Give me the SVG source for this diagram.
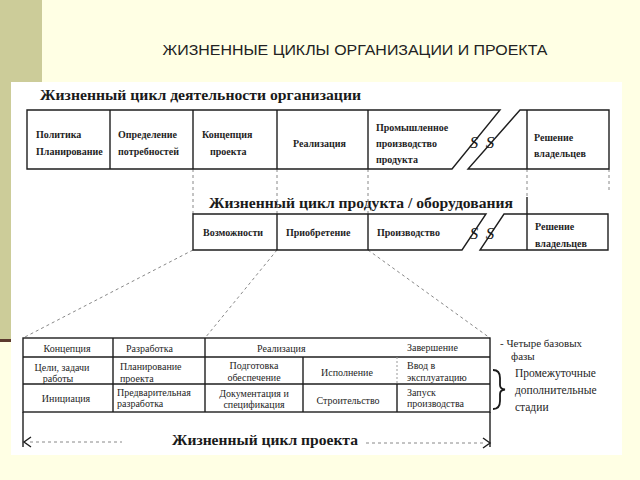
<svg xmlns="http://www.w3.org/2000/svg" width="640" height="480" viewBox="0 0 640 480">
<style>
.ln{stroke:#1e1e1e;stroke-width:1.4;fill:none}
.ds{stroke:#888;stroke-width:1;stroke-dasharray:3 3;fill:none}
.t{font-family:"Liberation Serif","Times New Roman",serif;font-size:10px;fill:#1e1e1e}
.tb{font-family:"Liberation Serif","Times New Roman",serif;font-size:10px;fill:#1e1e1e;font-weight:bold}
.h{font-family:"Liberation Serif","Times New Roman",serif;font-size:15px;font-weight:bold;fill:#1a1a1a}
.s{font-family:"Liberation Serif","Times New Roman",serif;font-size:17px;font-style:italic;fill:#1a1a1a;text-anchor:middle}
.r{font-family:"Liberation Serif","Times New Roman",serif;font-size:11.5px;fill:#1e1e1e}
.m{text-anchor:middle}
</style>
<rect x="0" y="0" width="640" height="480" fill="#FFFFE4"/>
<rect x="0" y="0" width="42" height="340" fill="#CCCC99"/>
<rect x="0" y="339" width="42" height="3" fill="#5C3A2E"/>
<rect x="11" y="82" width="611" height="373" fill="#FFFFFF"/>
<text x="355" y="55" text-anchor="middle" textLength="385" lengthAdjust="spacingAndGlyphs" style="font-family:'Liberation Sans',Arial,sans-serif;font-size:15px;fill:#222">ЖИЗНЕННЫЕ ЦИКЛЫ ОРГАНИЗАЦИИ И ПРОЕКТА</text>

<text class="h" x="40" y="100" textLength="321" lengthAdjust="spacingAndGlyphs">Жизненный цикл деятельности организации</text>
<text class="h" x="209" y="208" textLength="304" lengthAdjust="spacingAndGlyphs">Жизненный цикл продукта / оборудования</text>

<g id="connectors">
<line class="ds" x1="193" y1="169" x2="193" y2="214"/>
<line class="ds" x1="277" y1="169" x2="277" y2="214"/>
<line class="ds" x1="368" y1="169" x2="368" y2="214"/>
<line class="ds" x1="527" y1="169" x2="527" y2="197"/>
<line class="ln" x1="527" y1="197" x2="527" y2="214"/>
<line class="ds" x1="609" y1="169" x2="609" y2="190"/>
<line class="ds" x1="193" y1="250" x2="23" y2="338"/>
<line class="ds" x1="277" y1="250" x2="205" y2="338"/>
<line class="ds" x1="368" y1="250" x2="490" y2="338"/>
</g>

<g id="org-row">
<path class="ln" d="M27 110 H500 L452 169 H27 Z"/>
<path class="ln" d="M520 110 H609 V169 H468 Z"/>
<line class="ln" x1="110" y1="110" x2="110" y2="169"/>
<line class="ln" x1="193" y1="110" x2="193" y2="169"/>
<line class="ln" x1="277" y1="110" x2="277" y2="169"/>
<line class="ln" x1="368" y1="110" x2="368" y2="169"/>
<line class="ln" x1="527" y1="110" x2="527" y2="169"/>
<text class="s" x="474" y="148">S</text>
<text class="s" x="490" y="148">S</text>
</g>
<g id="org-1"><text class="tb" x="36" y="138">Политика</text><text class="tb" x="36" y="155">Планирование</text></g>
<g id="org-2"><text class="tb" x="118" y="138">Определение</text><text class="tb" x="118" y="155">потребностей</text></g>
<g id="org-3"><text class="tb" x="202" y="138">Концепция</text><text class="tb" x="210" y="155">проекта</text></g>
<g id="org-4"><text class="tb" x="293" y="147">Реализация</text></g>
<g id="org-5"><text class="tb" x="376" y="131">Промышленное</text><text class="tb" x="376" y="147">производство</text><text class="tb" x="376" y="163">продукта</text></g>
<g id="org-6"><text class="tb" x="534" y="141">Решение</text><text class="tb" x="534" y="157">владельцев</text></g>

<g id="prod-row">
<path class="ln" d="M193 214 H486 L462 250 H193 Z"/>
<path class="ln" d="M504 214 H608 V250 H480 Z"/>
<line class="ln" x1="277" y1="214" x2="277" y2="250"/>
<line class="ln" x1="368" y1="214" x2="368" y2="250"/>
<line class="ln" x1="527" y1="214" x2="527" y2="250"/>
<text class="s" x="474" y="239">S</text>
<text class="s" x="490" y="239">S</text>
</g>
<g id="prod-1"><text class="tb" x="203" y="236">Возможности</text></g>
<g id="prod-2"><text class="tb" x="286" y="236">Приобретение</text></g>
<g id="prod-3"><text class="tb" x="377" y="236">Производство</text></g>
<g id="prod-4"><text class="tb" x="535" y="230">Решение</text><text class="tb" x="535" y="247">владельцев</text></g>

<g id="project-table">
<rect class="ln" x="23" y="338" width="467" height="74"/>
<line class="ln" x1="23" y1="357" x2="490" y2="357"/>
<line class="ln" x1="23" y1="384" x2="490" y2="384"/>
<line class="ln" x1="113" y1="338" x2="113" y2="412"/>
<line class="ln" x1="205" y1="338" x2="205" y2="412"/>
<line class="ln" x1="303" y1="357" x2="303" y2="412"/>
<line stroke="#999" stroke-width="1" stroke-dasharray="2 2" x1="397" y1="357" x2="397" y2="384"/>
<line class="ln" x1="397" y1="384" x2="397" y2="412"/>
<line class="ln" x1="23" y1="412" x2="23" y2="447"/>
<line class="ln" x1="490" y1="412" x2="490" y2="447"/>
</g>
<g id="p-concept"><text class="t m" x="67" y="352">Концепция</text><text class="t m" x="62" y="371">Цели, задачи</text><text class="t m" x="58" y="382">работы</text><text class="t m" x="66" y="402">Инициация</text></g>
<g id="p-dev"><text class="t" x="126" y="352">Разработка</text><text class="t" x="120" y="370">Планирование</text><text class="t" x="120" y="382">проекта</text><text class="t" x="117" y="396">Предварительная</text><text class="t" x="117" y="407">разработка</text></g>
<g id="p-real"><text class="t" x="257" y="352">Реализация</text><text class="t m" x="254" y="369">Подготовка</text><text class="t m" x="254" y="381">обеспечение</text><text class="t m" x="254" y="397">Документация и</text><text class="t m" x="254" y="408">спецификация</text><text class="t m" x="347" y="376">Исполнение</text><text class="t m" x="348" y="404">Строительство</text></g>
<g id="p-end"><text class="t" x="407" y="351">Завершение</text><text class="t" x="407" y="369">Ввод в</text><text class="t" x="407" y="381">эксплуатацию</text><text class="t" x="407" y="396">Запуск</text><text class="t" x="407" y="407">производства</text></g>

<g id="project-arrow">
<line class="ds" x1="30" y1="442" x2="122" y2="442"/>
<line class="ds" x1="366" y1="443" x2="484" y2="443"/>
<path class="ln" d="M31 437 L24 442 L31 447"/>
<path class="ln" d="M483 438 L490 443 L483 448"/>
<text class="h" x="172" y="445" textLength="186" lengthAdjust="spacingAndGlyphs">Жизненный цикл проекта</text>
</g>

<g id="legend">
<text class="r" x="500" y="347" style="font-size:11px">- Четыре базовых</text>
<text class="r" x="511" y="360" style="font-size:11px">фазы</text>
<path d="M493 370 Q500 370 500 378 V385 Q500 389 505 389.5 Q500 390 500 394 V401 Q500 409 493 409" fill="none" stroke="#1a1a1a" stroke-width="1.8"/>
<text class="r" x="515" y="377">Промежуточные</text>
<text class="r" x="515" y="394">дополнительные</text>
<text class="r" x="515" y="411">стадии</text>
</g>
</svg>
